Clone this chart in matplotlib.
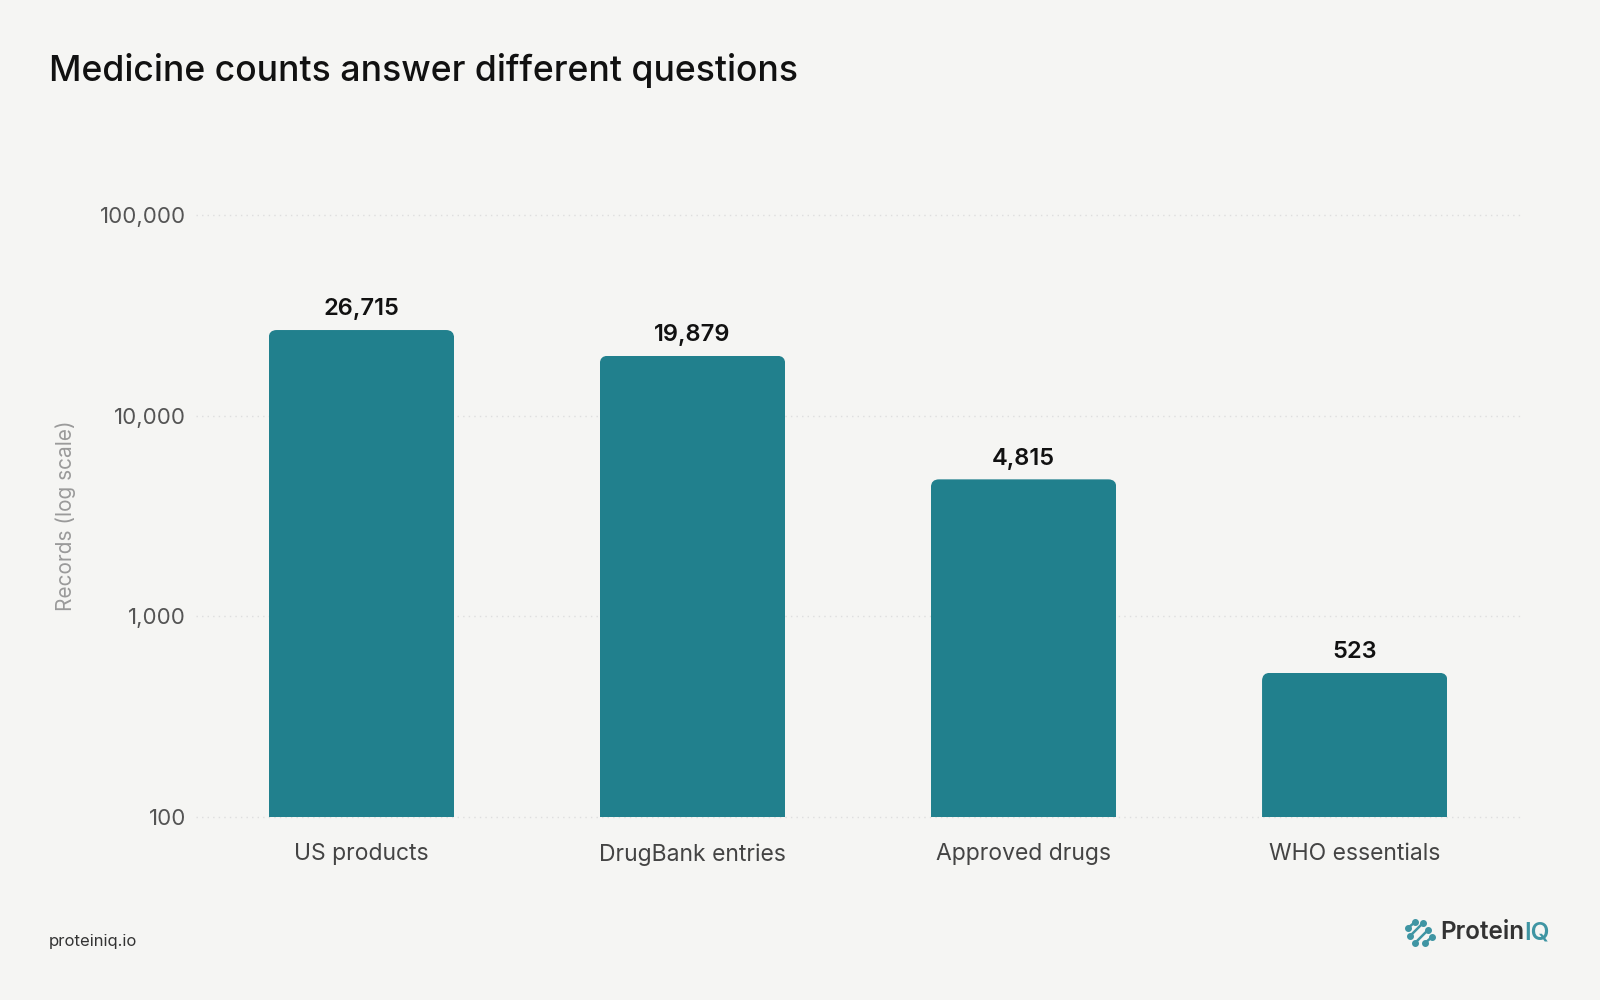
import numpy as np
import matplotlib.pyplot as plt
from matplotlib.patches import FancyBboxPatch
from matplotlib.lines import Line2D
from matplotlib.ticker import FixedLocator, FuncFormatter, NullLocator
from matplotlib.transforms import IdentityTransform

categories = ['US products', 'DrugBank entries', 'Approved drugs', 'WHO essentials']
counts = [26715, 19879, 4815, 523]
yticks = [100, 1000, 10000, 100000]

bg = '#f5f5f3'
teal = '#21808d'
logo_teal = '#3f95a3'

plt.rcParams['font.family'] = ['Inter', 'DejaVu Sans']

fig = plt.figure(figsize=(16, 10), dpi=100, facecolor=bg)
ax = fig.add_axes([0.1224, 0.183, 0.8278, 0.602])
ax.set_facecolor(bg)
ax.set_yscale('log')
ax.set_ylim(100, 100000)
ax.set_xlim(-0.5, len(categories) - 0.5)

x = np.arange(len(categories))
bars = ax.bar(x, counts, width=0.56, color=teal, zorder=3)

# round the top corners only
for b in bars:
    bb = b.get_window_extent()
    clip = FancyBboxPatch((bb.x0, bb.y0 - 30), bb.width, bb.height + 30,
                          boxstyle='round,pad=0,rounding_size=8',
                          transform=IdentityTransform())
    b.set_clip_path(clip)

for xi, v in zip(x, counts):
    ax.annotate(f'{v:,}', (xi, v), xytext=(0, 7), textcoords='offset points',
                ha='center', va='bottom', fontsize=17, fontweight='semibold',
                color='#111111')

ax.yaxis.set_major_locator(FixedLocator(yticks))
ax.yaxis.set_minor_locator(NullLocator())
ax.yaxis.set_major_formatter(FuncFormatter(lambda v, p: f'{v:,.0f}'))
ax.set_xticks(x)
ax.set_xticklabels(categories)
ax.tick_params(axis='y', length=0, pad=7, labelsize=16, labelcolor='#555555')
ax.tick_params(axis='x', length=0, pad=19, labelsize=16.5, labelcolor='#444444')
ax.yaxis.grid(True, linestyle=(0, (1, 3)), color='#dedede', linewidth=1, zorder=0)
for gl in ax.get_ygridlines():
    gl.set_clip_on(False)
ax.set_axisbelow(True)
for s in ax.spines.values():
    s.set_visible(False)

fig.text(0.0306, 1 - 69 / 980, 'Medicine counts answer different questions',
         fontsize=25.6, fontweight='medium', color='#111111', va='center', ha='left')
fig.text(64 / 1568, 1 - 505 / 980, 'Records (log scale)', rotation=90,
         fontsize=15, color='#9a9a9a', ha='center', va='center')
fig.text(0.0306, 1 - 923 / 980, 'proteiniq.io', fontsize=12, color='#333333',
         ha='left', va='center')

# logo
t = fig.text(1411 / 1568, 1 - 914 / 980, 'Protein', fontsize=17.5, fontweight='semibold',
             color='#333333', ha='left', va='center')
ax.annotate('IQ', xy=(1, 0.5), xycoords=t, xytext=(0.5, 0), textcoords='offset points',
            fontsize=17.5, fontweight='semibold', color=logo_teal, ha='left', va='center',
            annotation_clip=False)
icon = [((1408, 928), (1415, 922)), ((1410, 936), (1423, 923)),
        ((1415, 943), (1428, 930)), ((1425, 943), (1432, 937))]
for (x0, y0), (x1, y1) in icon:
    fig.add_artist(Line2D([x0 / 1600, x1 / 1600], [1 - y0 / 1000, 1 - y1 / 1000],
                          transform=fig.transFigure, color=logo_teal, lw=1.8,
                          solid_capstyle='round', marker='o', markersize=4))

fig.savefig('out.png', dpi=100, facecolor=bg)
